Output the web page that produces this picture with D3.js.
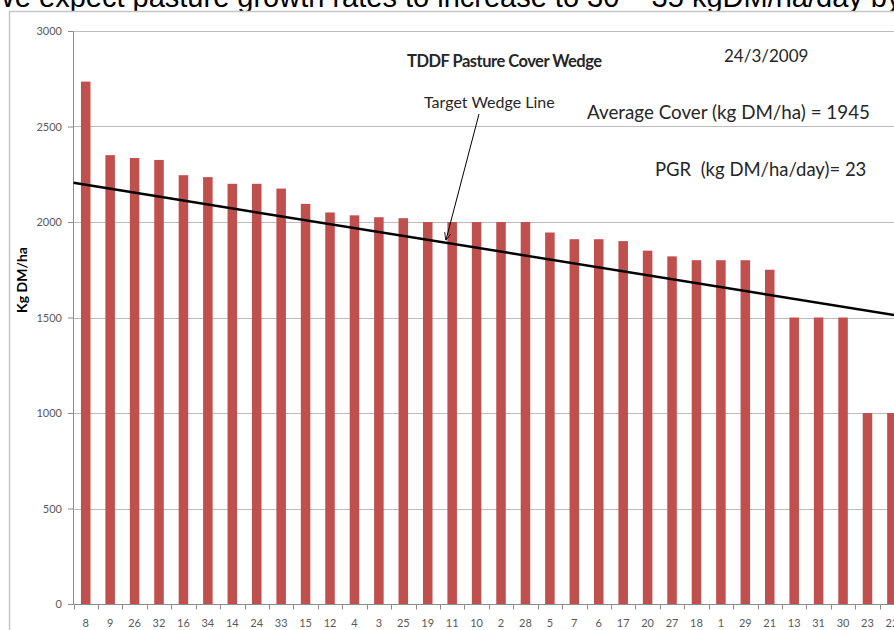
<!DOCTYPE html>
<html>
<head>
<meta charset="utf-8">
<script src="https://cdn.jsdelivr.net/npm/d3@7"></script>
<style>
  body { margin: 0; background: #fff; }
  svg { display: block; }
</style>
</head>
<body>
<div id="chart"></div>
<script>
// paddock order (sorted by cover) and cover values
var paddocks = ["8","9","26","32","16","34","14","24","33","15","12","4","3","25","19",
                "11","10","2","28","5","7","6","17","20","27","18","1","29","21","13","31","30","23","22"];
var cover = [2735,2350,2335,2325,2245,2235,2200,2200,2175,2095,2050,2035,2025,2020,2000,
             2000,2000,2000,2000,1945,1910,1910,1900,1850,1820,1800,1800,1800,1750,1500,1500,1500,1000,1000];
var yTicks = [0,500,1000,1500,2000,2500,3000];
// target wedge line: value at start and end of the paddock range
var wedge = [2205, 1505];

var headline = "We expect pasture growth rates to increase to 30 \u2013 35 kgDM/ha/day by";
var title = "TDDF Pasture Cover Wedge";
var dateLabel = "24/3/2009";
var avgLabel = "Average Cover (kg DM/ha) = 1945";
var pgrLabel = "PGR  (kg DM/ha/day)= 23";
var wedgeLabel = "Target Wedge Line";

var W = 894, H = 630;
var svg = d3.select("#chart").append("svg")
  .attr("width", W).attr("height", H);

// page headline, cut off at the top like the screenshot
svg.append("text")
  .attr("x", -12).attr("y", 7)
  .style("font-family", "Liberation Sans, Arial, sans-serif")
  .style("font-size", "29px")
  .attr("fill", "#000")
  .text(headline);

// chart frame
svg.append("rect")
  .attr("x", 9.5).attr("y", 11.5)
  .attr("width", 1000).attr("height", 700)
  .attr("fill", "#fff")
  .attr("stroke", "#c6c6c6")
  .attr("stroke-width", 1.5);

var x = d3.scaleBand().domain(paddocks).range([73.5, 73.5 + 34 * 24.43]);
var y = d3.scaleLinear().domain([0, 3000]).range([604, 31]);
var barW = x.bandwidth() * 0.39;

// gridlines
svg.append("g").selectAll("line")
  .data(yTicks.filter(function(d) { return d > 0; }))
  .join("line")
  .attr("x1", x.range()[0]).attr("x2", W)
  .attr("y1", function(d) { return Math.round(y(d)) + 0.5; })
  .attr("y2", function(d) { return Math.round(y(d)) + 0.5; })
  .attr("stroke", "#bcbcbc");

// bars
svg.append("g").selectAll("rect")
  .data(paddocks)
  .join("rect")
  .attr("x", function(d) { return x(d) + (x.bandwidth() - barW) / 2; })
  .attr("y", function(d, i) { return y(cover[i]); })
  .attr("width", barW)
  .attr("height", function(d, i) { return y(0) - y(cover[i]); })
  .attr("fill", "#c0504d");

// y axis
var yAxis = svg.append("g")
  .attr("transform", "translate(" + (x.range()[0] - 0.5) + ",0)")
  .call(d3.axisLeft(y).tickValues(yTicks).tickFormat(d3.format("d")).tickSize(5).tickPadding(6));
yAxis.select(".domain").attr("stroke", "#8c8c8c");
yAxis.selectAll(".tick line").attr("stroke", "#8c8c8c");
yAxis.selectAll("text")
  .style("font-family", "Lato, sans-serif")
  .style("font-size", "11px")
  .attr("fill", "#595959");

// x axis: ticks between categories, labels centred
var xg = svg.append("g").attr("transform", "translate(0," + (y(0) + 0.5) + ")");
xg.append("line")
  .attr("x1", x.range()[0]).attr("x2", W)
  .attr("stroke", "#8c8c8c");
xg.selectAll("line.tk")
  .data(paddocks)
  .join("line").attr("class", "tk")
  .attr("x1", function(d) { return Math.round(x(d)) + 0.5; })
  .attr("x2", function(d) { return Math.round(x(d)) + 0.5; })
  .attr("y1", 0).attr("y2", 5)
  .attr("stroke", "#8c8c8c");
xg.selectAll("text")
  .data(paddocks)
  .join("text")
  .attr("x", function(d) { return x(d) + x.bandwidth() / 2; })
  .attr("y", 22)
  .attr("text-anchor", "middle")
  .style("font-family", "Lato, sans-serif")
  .style("font-size", "11px")
  .attr("fill", "#595959")
  .text(function(d) { return d; });

// y axis title
svg.append("text")
  .attr("transform", "translate(27,280) rotate(-90)")
  .attr("text-anchor", "middle")
  .style("font-family", "Lato, sans-serif")
  .style("font-size", "14px")
  .style("font-weight", "bold")
  .attr("fill", "#000")
  .text("Kg DM/ha");

// target wedge line
var wedgeLine = d3.line()
  .x(function(d) { return d[0]; })
  .y(function(d) { return y(d[1]); });
var xr = x.range();
svg.append("path")
  .datum([[xr[0], wedge[0]], [xr[1], wedge[1]]])
  .attr("fill", "none")
  .attr("stroke", "#000")
  .attr("stroke-width", 2.5)
  .attr("d", wedgeLine);

// annotations
function note(txt, px, py, size, bold, spacing) {
  svg.append("text")
    .attr("x", px).attr("y", py)
    .style("font-family", "Lato, sans-serif")
    .style("font-size", size + "px")
    .style("font-weight", bold ? "bold" : "normal")
    .style("letter-spacing", (spacing || 0) + "px")
    .style("white-space", "pre")
    .attr("fill", "#262626")
    .text(txt);
}
note(title, 407, 67, 16.5, true, -0.5);
note(dateLabel, 724, 62, 17, false);
note(wedgeLabel, 424, 108, 16, false);
note(avgLabel, 587, 119, 18.8, false);
note(pgrLabel, 655, 176, 18.5, false);

// arrow from label to wedge line
svg.append("defs").append("marker")
  .attr("id", "arr")
  .attr("viewBox", "0 0 10 10")
  .attr("refX", 9).attr("refY", 5)
  .attr("markerWidth", 8).attr("markerHeight", 8)
  .attr("orient", "auto")
  .append("path")
  .attr("d", "M0,1 L10,5 L0,9")
  .attr("fill", "none")
  .attr("stroke", "#000");
var aEnd = 446;
svg.append("line")
  .attr("x1", 479).attr("y1", 114)
  .attr("x2", aEnd).attr("y2", y(wedge[0] + (wedge[1] - wedge[0]) * (aEnd - xr[0]) / (xr[1] - xr[0])) - 3)
  .attr("stroke", "#000")
  .attr("stroke-width", 1)
  .attr("marker-end", "url(#arr)");
</script>
</body>
</html>
